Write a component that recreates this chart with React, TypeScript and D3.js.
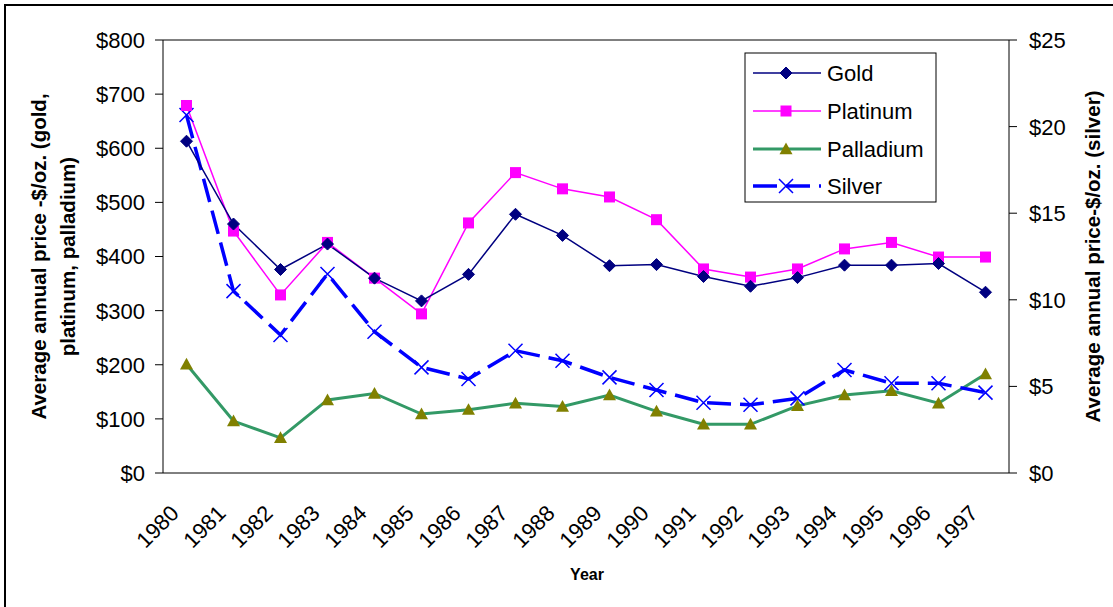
import React from "react";
import * as d3 from "d3";

const years = ["1980","1981","1982","1983","1984","1985","1986","1987","1988","1989","1990","1991","1992","1993","1994","1995","1996","1997"];
const gold = [613,460,376,423,360,318,367,478,439,383,385,363,345,361,384,384,387,334];
const platinum = [679,447,329,426,360,294,462,555,525,510,468,377,362,377,414,426,399,399];
const palladium = [201,96,65,135,147,109,117,129,123,144,114,90,90,124,144,152,129,183];
const silver = [20.67,10.5,7.97,11.49,8.16,6.1,5.43,7.06,6.48,5.52,4.79,4.06,3.94,4.31,5.95,5.18,5.18,4.64];
const leftTicks = [0,100,200,300,400,500,600,700,800];
const rightTicks = [0,5,10,15,20,25];
const legendItems = ["Gold","Platinum","Palladium","Silver"];

const FONT = "'Liberation Sans', Arial, sans-serif";

export default function App() {
  const W = 1113, H = 607;
  const L = 163, T = 40, R = 1009, B = 473;
  const x = d3.scaleBand<string>().domain(years).range([L, R]);
  const cx = (y: string) => (x(y) as number) + x.bandwidth() / 2;
  const yl = d3.scaleLinear().domain([0, 800]).range([B, T]);
  const yr = d3.scaleLinear().domain([0, 25]).range([B, T]);

  const lineL = d3.line<number>().x((_, i) => cx(years[i])).y(d => yl(d));
  const lineR = d3.line<number>().x((_, i) => cx(years[i])).y(d => yr(d));

  const diamond = (px: number, py: number, key: any, s = 6) => (
    <path key={key} d={`M${px},${py - s}L${px + s},${py}L${px},${py + s}L${px - s},${py}Z`} fill="#000080" stroke="#000080" />
  );
  const square = (px: number, py: number, key: any, s = 5.5) => (
    <rect key={key} x={px - s} y={py - s} width={2 * s} height={2 * s} fill="#FF00FF" />
  );
  const tri = (px: number, py: number, key: any, s = 6.5) => (
    <path key={key} d={`M${px},${py - s}L${px + s},${py + s * 0.8}L${px - s},${py + s * 0.8}Z`} fill="#808000" />
  );
  const cross = (px: number, py: number, key: any, s = 7) => (
    <path key={key} d={`M${px - s},${py - s}L${px + s},${py + s}M${px - s},${py + s}L${px + s},${py - s}`} stroke="#0000FF" strokeWidth={1.5} fill="none" />
  );

  const legX = 745, legY = 53, legW = 191, legH = 149;
  const legRows = [73, 111, 149, 186];

  return (
    <svg width={W} height={H} style={{ display: "block", position: "absolute", left: 0, top: 0 }} fontFamily={FONT}>
      <rect x={0} y={0} width={W} height={H} fill="#fff" />
      <rect x={5} y={5} width={W + 20} height={H + 20} fill="none" stroke="#000" strokeWidth={2} />

      {/* plot area frame */}
      <line x1={L} y1={T} x2={R} y2={T} stroke="#000" strokeWidth={1} />
      <line x1={L} y1={T} x2={L} y2={B} stroke="#000" strokeWidth={1} />
      <line x1={R} y1={T} x2={R} y2={B} stroke="#000" strokeWidth={1} />
      <line x1={L} y1={B} x2={R} y2={B} stroke="#000" strokeWidth={1} />

      {/* left ticks */}
      {leftTicks.map(t => (
        <g key={"l" + t}>
          <line x1={L - 8} x2={L} y1={yl(t)} y2={yl(t)} stroke="#000" />
          <text x={145} y={yl(t)} dy="0.36em" textAnchor="end" fontSize={22}>{"$" + t}</text>
        </g>
      ))}
      {/* right ticks */}
      {rightTicks.map(t => (
        <g key={"r" + t}>
          <line x1={R} x2={R + 8} y1={yr(t)} y2={yr(t)} stroke="#000" />
          <text x={1029} y={yr(t)} dy="0.36em" textAnchor="start" fontSize={22}>{"$" + t}</text>
        </g>
      ))}
      {/* x labels */}
      {years.map(yv => (
        <text key={yv} transform={`translate(${cx(yv) - 12},${B + 36}) rotate(-45)`} textAnchor="end" dy="0.36em" fontSize={22}>{yv}</text>
      ))}

      {/* axis titles */}
      <text transform={`translate(46,${(T + B) / 2}) rotate(-90)`} textAnchor="middle" fontSize={20.5} fontWeight="bold">
        <tspan x={0} dy="0">Average annual price -$/oz. (gold,</tspan>
        <tspan x={0} dy="1.4em">platinum, palladium)</tspan>
      </text>
      <text transform={`translate(1100,${(T + B) / 2}) rotate(-90)`} textAnchor="middle" fontSize={20.5} fontWeight="bold">Average annual price-$/oz. (silver)</text>
      <text x={587} y={580} textAnchor="middle" fontSize={16} fontWeight="bold">Year</text>

      {/* series */}
      <path d={lineL(palladium) || ""} fill="none" stroke="#339966" strokeWidth={3} />
      <path d={lineR(silver) || ""} fill="none" stroke="#0000FF" strokeWidth={3.5} strokeDasharray="24 9" />
      <path d={lineL(platinum) || ""} fill="none" stroke="#FF00FF" strokeWidth={1.5} />
      <path d={lineL(gold) || ""} fill="none" stroke="#000080" strokeWidth={1.5} />
      {palladium.map((v, i) => tri(cx(years[i]), yl(v), "pa" + i))}
      {silver.map((v, i) => cross(cx(years[i]), yr(v), "si" + i))}
      {platinum.map((v, i) => square(cx(years[i]), yl(v), "pl" + i))}
      {gold.map((v, i) => diamond(cx(years[i]), yl(v), "go" + i))}

      {/* legend */}
      <rect x={legX} y={legY} width={legW} height={legH} fill="#fff" stroke="#000" strokeWidth={1} />
      {legendItems.map((name, i) => {
        const ly = legRows[i];
        const x1 = 753, x2 = 821, mx = 786;
        return (
          <g key={name}>
            {i === 0 && <line x1={x1} x2={x2} y1={ly} y2={ly} stroke="#000080" strokeWidth={1.5} />}
            {i === 1 && <line x1={x1} x2={x2} y1={ly} y2={ly} stroke="#FF00FF" strokeWidth={1.5} />}
            {i === 2 && <line x1={x1} x2={x2} y1={ly} y2={ly} stroke="#339966" strokeWidth={3} />}
            {i === 3 && <line x1={x1} x2={x2} y1={ly} y2={ly} stroke="#0000FF" strokeWidth={3.5} strokeDasharray="24 9" />}
            {i === 0 && diamond(mx, ly, "ld")}
            {i === 1 && square(mx, ly, "ls")}
            {i === 2 && tri(mx, ly, "lt")}
            {i === 3 && cross(mx, ly, "lx")}
            <text x={827} y={ly} dy="0.36em" fontSize={22}>{name}</text>
          </g>
        );
      })}
    </svg>
  );
}
